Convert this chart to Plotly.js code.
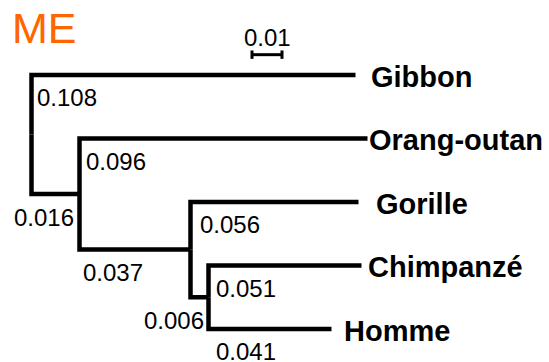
<!DOCTYPE html>
<html>
<head>
<meta charset="utf-8">
<script src="https://cdn.plot.ly/plotly-3.0.1.min.js"></script>
<style>html,body{margin:0;padding:0;background:#fff;}#chart{width:549px;height:362px;}</style>
</head>
<body>
<div id="chart"></div>
<script>
// ---- data (phylogenetic tree, ME) ----
const nodeNames     = ['root', 'n1', 'n2', 'n3', 'Gibbon', 'Orang-outan', 'Gorille', 'Chimpanzé', 'Homme'];
const nodeParents   = [null, 'root', 'n1', 'n2', 'root', 'n1', 'n2', 'n3', 'n3'];
const branchLengths = [0, 0.016, 0.037, 0.006, 0.108, 0.096, 0.056, 0.051, 0.041];
const branchLabels  = ['', '0.016', '0.037', '0.006', '0.108', '0.096', '0.056', '0.051', '0.041'];
const leafOrder     = ['Gibbon', 'Orang-outan', 'Gorille', 'Chimpanzé', 'Homme'];
const scaleBarLength = 0.01;
const scaleBarLabel  = '0.01';
const chartTitle     = 'ME';

// ---- compute layout of tree ----
const idx = {};
nodeNames.forEach((n, i) => idx[n] = i);
const children = nodeNames.map(() => []);
nodeParents.forEach((p, i) => { if (p !== null) children[idx[p]].push(i); });
const X = new Array(nodeNames.length), Y = new Array(nodeNames.length);
function setX(i, base) { X[i] = base + branchLengths[i]; children[i].forEach(c => setX(c, X[i])); }
setX(0, 0);
function setY(i) {
  if (children[i].length === 0) { Y[i] = leafOrder.indexOf(nodeNames[i]); return Y[i]; }
  const ys = children[i].map(setY);
  Y[i] = (Math.min(...ys) + Math.max(...ys)) / 2;
  return Y[i];
}
setY(0);

// elbow path
const lx = [], ly = [];
nodeNames.forEach((n, i) => {
  const p = nodeParents[i];
  if (p === null) return;
  const pi = idx[p];
  lx.push(X[pi], X[pi], X[i], null);
  ly.push(Y[pi], Y[i], Y[i], null);
});

const font = 'Liberation Sans, Arial, Helvetica, sans-serif';
const annotations = [];

// leaf label offsets (px)
const leafShift = {'Gibbon': 15, 'Orang-outan': 1, 'Gorille': 17, 'Chimpanzé': 6, 'Homme': 12};
leafOrder.forEach(n => {
  const i = idx[n];
  annotations.push({x: X[i], y: Y[i], text: '<b>' + n + '</b>', showarrow: false,
    xanchor: 'left', yanchor: 'middle', xshift: leafShift[n], yshift: -2,
    borderpad: 0, borderwidth: 0, font: {family: font, size: 29, color: '#000'}});
});

// branch length labels
const rightAligned = {'n1': -5.5, 'n3': -4.5};
const leftShift = {'Gibbon': 5.5, 'Orang-outan': 6.5, 'n2': 3.5, 'Gorille': 9.5, 'Chimpanzé': 7.5, 'Homme': 7.5};
nodeNames.forEach((n, i) => {
  if (!branchLabels[i]) return;
  const pi = idx[nodeParents[i]];
  if (n in rightAligned) {
    annotations.push({x: X[i], y: Y[i], text: branchLabels[i], showarrow: false,
      xanchor: 'right', yanchor: 'middle', xshift: rightAligned[n], yshift: -23.5,
      borderpad: 0, borderwidth: 0, font: {family: font, size: 24, color: '#000'}});
  } else {
    annotations.push({x: X[pi], y: Y[i], text: branchLabels[i], showarrow: false,
      xanchor: 'left', yanchor: 'middle', xshift: leftShift[n], yshift: -23,
      borderpad: 0, borderwidth: 0, font: {family: font, size: 24, color: '#000'}});
  }
});

// scale bar
const sbX = 0.0735, sbY = -0.32;
annotations.push({x: sbX + scaleBarLength / 2, y: sbY, text: scaleBarLabel, showarrow: false,
  xanchor: 'center', yanchor: 'middle', yshift: 17, borderpad: 0, borderwidth: 0,
  font: {family: font, size: 24, color: '#000'}});

const traces = [
  {x: lx, y: ly, mode: 'lines', line: {color: '#000', width: 4.5}, hoverinfo: 'skip', connectgaps: false},
  {x: [sbX, sbX + scaleBarLength], y: [sbY, sbY], mode: 'lines+markers',
   line: {color: '#000', width: 3},
   marker: {symbol: 'line-ns', size: 6, line: {color: '#000', width: 3}}, hoverinfo: 'skip'}
];

const layout = {
  width: 549, height: 362,
  margin: {l: 0, r: 0, t: 0, b: 0},
  paper_bgcolor: '#fff', plot_bgcolor: '#fff',
  showlegend: false,
  title: {text: chartTitle, x: 12 / 549, xanchor: 'left', xref: 'container',
          y: 1 - 28 / 362, yanchor: 'middle', yref: 'container',
          font: {family: font, size: 43, color: '#FF6600'}},
  xaxis: {range: [-0.0105, 0.1725], visible: false, fixedrange: true},
  yaxis: {range: [4.520, -1.181], visible: false, fixedrange: true},
  annotations: annotations
};

Plotly.newPlot('chart', traces, layout, {staticPlot: true, displayModeBar: false});
</script>
</body>
</html>
